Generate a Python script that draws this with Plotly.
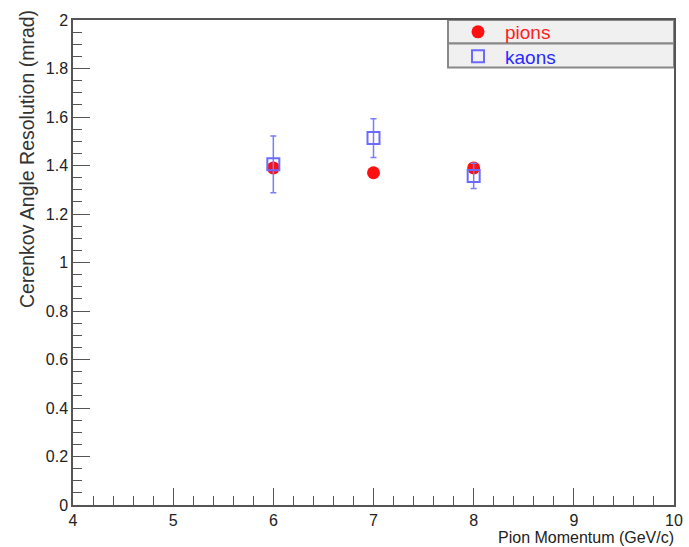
import plotly.graph_objects as go

# Data
momentum = [6, 7, 8]
pion_res = [1.39, 1.37, 1.39]
kaon_res = [1.405, 1.513, 1.357]
kaon_err = [0.117, 0.080, 0.052]

FONT = "Liberation Sans, Arial, sans-serif"
AX = "#555555"

# plot area in pixels
L, R, T, B = 73, 674, 20, 505
PW, PH = R - L, B - T


def px_x(p):
    return (p - L) / PW


def px_y(p):
    return (B - p) / PH


fig = go.Figure()
fig.add_trace(go.Scatter(
    x=momentum, y=pion_res, mode="markers",
    name="<span style='color:#ff2020'>pions</span>", legend="legend",
    marker=dict(symbol="circle", size=13, color="#ff1010", line=dict(width=0)),
))
fig.add_trace(go.Scatter(
    x=momentum, y=kaon_res, mode="markers",
    name="<span style='color:#2a2aff'>kaons</span>", legend="legend2",
    error_y=dict(type="data", array=kaon_err, color="#7c7cff", thickness=1.5, width=3),
    marker=dict(symbol="square-open", size=12, color="#6a6aff", line=dict(width=2)),
))

leg_common = dict(
    xanchor="left", yanchor="middle", bgcolor="rgba(0,0,0,0)", borderwidth=0,
    font=dict(size=19, family=FONT), itemwidth=44,
)

fig.update_layout(
    width=689, height=547,
    margin=dict(l=L, r=689 - R, t=T, b=547 - B, autoexpand=False),
    paper_bgcolor="white", plot_bgcolor="white",
    font=dict(family=FONT, size=16, color="#222"),
    showlegend=True,
    legend=dict(x=px_x(451), y=px_y(32), **leg_common),
    legend2=dict(x=px_x(451), y=px_y(56.5), **leg_common),
    xaxis=dict(
        range=[4, 10], dtick=1, tick0=4, ticks="inside", ticklen=17, tickcolor=AX,
        tickwidth=1, showgrid=False, zeroline=False, showline=True, linecolor=AX,
        linewidth=1.5, mirror=True, tickfont=dict(size=16),
        minor=dict(dtick=0.2, ticks="inside", ticklen=9, tickcolor=AX, showgrid=False),
    ),
    yaxis=dict(
        range=[0, 2], dtick=0.2, tick0=0, ticks="inside", ticklen=17, tickcolor=AX,
        tickwidth=1, showgrid=False, zeroline=False, showline=True, linecolor=AX,
        linewidth=1.5, mirror=True, tickfont=dict(size=16),
        minor=dict(dtick=0.05, ticks="inside", ticklen=9, tickcolor=AX, showgrid=False),
    ),
    annotations=[
        dict(text="Pion Momentum (GeV/c)", xref="paper", yref="paper", x=1, y=0,
             xanchor="right", yanchor="top", yshift=-22, xshift=2, showarrow=False,
             font=dict(size=16, family=FONT, color="#222")),
        dict(text="Cerenkov Angle Resolution (mrad)", xref="paper", yref="paper",
             x=0, y=1, xanchor="right", yanchor="top", xshift=-33, yshift=12,
             textangle=-90, showarrow=False,
             font=dict(size=19.5, family=FONT, color="#333")),
    ],
    shapes=[
        dict(type="rect", xref="paper", yref="paper",
             x0=px_x(448), x1=1, y0=px_y(43.5), y1=1,
             fillcolor="#f0f0f0", line=dict(color="#888", width=2), layer="below"),
        dict(type="rect", xref="paper", yref="paper",
             x0=px_x(448), x1=1, y0=px_y(67.5), y1=px_y(43.5),
             fillcolor="#f0f0f0", line=dict(color="#888", width=2), layer="below"),
    ],
)

fig.write_html("out.html")
